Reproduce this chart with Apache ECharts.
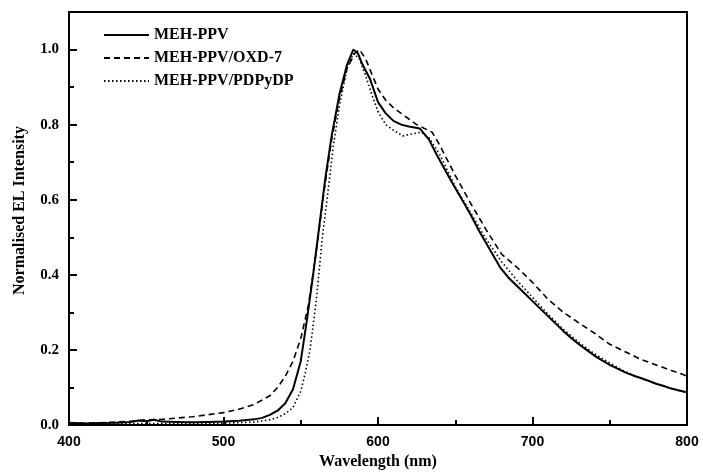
<!DOCTYPE html>
<html>
<head>
<meta charset="utf-8">
<script src="https://cdn.jsdelivr.net/npm/echarts@6/dist/echarts.min.js"></script>
<style>
  html, body { margin: 0; padding: 0; background: #fff; }
  #chart { width: 703px; height: 475px; }
</style>
</head>
<body>
<div id="chart"></div>
<script>
// EL spectra
const seriesNames = ['MEH-PPV', 'MEH-PPV/OXD-7', 'MEH-PPV/PDPyDP']

const wlPPV = [400,410,420,430,440,445,450,455,460,470,480,490,500,510,520,525,530,535,540,545,550,554,558,562,566,570,575,580,584,587,590,595,600,605,610,615,620,627,633,638,642,648,653,660,665,672,679,685,690,695,700,705,710,715,720,725,730,735,740,745,750,755,760,765,770,775,780,785,790,795,800]
const elPPV = [0.006,0.004,0.005,0.006,0.008,0.012,0.01,0.014,0.009,0.008,0.007,0.008,0.009,0.011,0.015,0.019,0.027,0.038,0.058,0.095,0.17,0.28,0.40,0.53,0.66,0.77,0.88,0.96,1.0,0.99,0.96,0.92,0.86,0.83,0.81,0.80,0.795,0.79,0.76,0.72,0.69,0.645,0.61,0.56,0.52,0.47,0.42,0.39,0.37,0.35,0.33,0.31,0.29,0.27,0.25,0.232,0.215,0.2,0.185,0.172,0.16,0.15,0.14,0.132,0.125,0.118,0.11,0.104,0.097,0.092,0.087]

const wlOXD = [400,420,440,450,460,480,500,510,520,530,535,540,545,550,555,560,565,570,575,580,585,588,592,596,600,605,610,615,620,625,630,635,640,645,650,660,670,680,690,695,700,710,720,730,740,750,760,770,780,790,797,800]
const elOXD = [0.005,0.006,0.01,0.014,0.015,0.022,0.033,0.042,0.055,0.078,0.1,0.13,0.17,0.23,0.32,0.46,0.62,0.76,0.87,0.95,0.99,1.0,0.975,0.935,0.895,0.865,0.845,0.83,0.815,0.8,0.79,0.78,0.745,0.705,0.665,0.59,0.52,0.455,0.42,0.40,0.38,0.335,0.30,0.272,0.245,0.215,0.195,0.175,0.16,0.145,0.135,0.13]

const wlPDP = [400,420,440,460,480,500,510,520,530,535,540,545,550,553,556,560,564,567,571,575,580,584,588,592,596,600,605,610,616,622,628,633,640,650,660,670,680,690,700,710,720,730,740,750,760,770,780,790,800]
const elPDP = [0.003,0.003,0.004,0.004,0.004,0.005,0.006,0.008,0.014,0.02,0.03,0.047,0.09,0.14,0.2,0.33,0.5,0.6,0.74,0.85,0.95,0.99,0.975,0.93,0.88,0.835,0.80,0.785,0.77,0.775,0.78,0.765,0.72,0.635,0.565,0.495,0.435,0.385,0.34,0.295,0.255,0.22,0.19,0.165,0.142,0.125,0.11,0.097,0.086]

function pairs(xs, ys) {
  return xs.map((x, i) => [x, ys[i]])
}

const chart = echarts.init(document.getElementById('chart'))

const serif = '"Liberation Serif", "DejaVu Serif", serif'
const sans = '"Liberation Sans", Arial, sans-serif'

chart.setOption({
  animation: false,
  grid: {
    left: 69, right: 16, top: 12, bottom: 47,
    show: true, borderColor: '#000', borderWidth: 2
  },
  legend: {
    orient: 'vertical',
    left: 98, top: 22,
    itemWidth: 45, itemHeight: 14, itemGap: 7,
    itemStyle: { opacity: 0 },
    textStyle: { fontFamily: serif, fontSize: 16, lineHeight: 16, fontWeight: 'bold', color: '#000' },
    data: seriesNames
  },
  xAxis: {
    type: 'value',
    min: 400, max: 800, interval: 100,
    name: 'Wavelength (nm)',
    nameLocation: 'middle', nameGap: 29,
    nameTextStyle: { fontFamily: serif, fontSize: 16, fontWeight: 'bold', color: '#000' },
    axisLine: { lineStyle: { color: '#000', width: 2 } },
    axisTick: { inside: true, length: 8, lineStyle: { color: '#000', width: 2 } },
    minorTick: { show: true, splitNumber: 2, length: 5, lineStyle: { color: '#000', width: 2 } },
    axisLabel: { fontFamily: sans, fontSize: 14, fontWeight: 'bold', color: '#000', margin: 10 },
    splitLine: { show: false }
  },
  yAxis: {
    type: 'value',
    min: 0, max: 1.1, interval: 0.2,
    name: 'Normalised EL Intensity',
    nameLocation: 'middle', nameGap: 41,
    nameTextStyle: { fontFamily: serif, fontSize: 16, fontWeight: 'bold', color: '#000', padding: [0, 0, 0, 16] },
    axisLine: { lineStyle: { color: '#000', width: 2 } },
    axisTick: { inside: true, length: 8, lineStyle: { color: '#000', width: 2 } },
    minorTick: { show: true, splitNumber: 2, length: 5, lineStyle: { color: '#000', width: 2 } },
    axisLabel: {
      fontFamily: serif, fontSize: 15, fontWeight: 'bold', color: '#000', margin: 10,
      formatter: v => v > 1.05 ? '' : v.toFixed(1)
    },
    splitLine: { show: false }
  },
  series: [
    {
      name: seriesNames[0], type: 'line', symbol: 'none',
      data: pairs(wlPPV, elPPV),
      lineStyle: { color: '#000', width: 2, type: 'solid' },
      itemStyle: { color: '#000' }
    },
    {
      name: seriesNames[1], type: 'line', symbol: 'none',
      data: pairs(wlOXD, elOXD),
      lineStyle: { color: '#000', width: 1.6, type: [6, 4] },
      itemStyle: { color: '#000' }
    },
    {
      name: seriesNames[2], type: 'line', symbol: 'none',
      data: pairs(wlPDP, elPDP),
      lineStyle: { color: '#000', width: 1.6, type: [1.5, 2.5] },
      itemStyle: { color: '#000' }
    }
  ]
})
</script>
</body>
</html>
